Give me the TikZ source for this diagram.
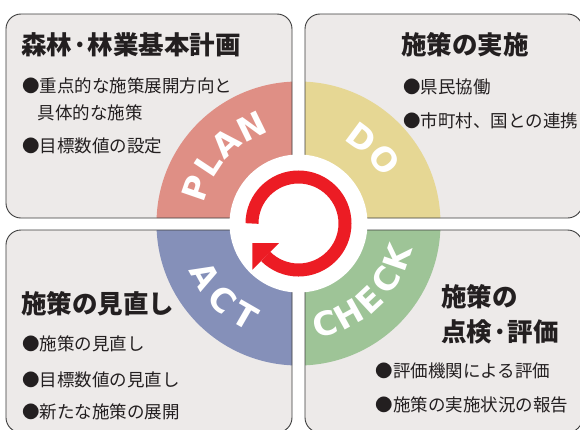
\documentclass[tikz,border=0pt]{standalone}
\usepackage{fontspec}
\newfontfamily\jp{Noto Sans CJK JP}
\newfontfamily\lat{DejaVu Sans}
\usetikzlibrary{calc}
\definecolor{panelfill}{HTML}{EDEAE9}
\definecolor{border}{HTML}{3C3C3C}
\definecolor{planc}{HTML}{DF8F85}
\definecolor{doc}{HTML}{E6D794}
\definecolor{checkc}{HTML}{9EC497}
\definecolor{actc}{HTML}{8590B9}
\definecolor{redc}{HTML}{EC1C24}
\definecolor{txt}{HTML}{231F20}
\tikzset{
  paneltitle/.style={font=\jp\bfseries\fontsize{25.5}{28}\selectfont, anchor=west, inner sep=0pt, text=txt},
  panelbody/.style={font=\jp\fontsize{17.5}{21}\selectfont, anchor=west, inner sep=0pt, text=txt},
  ringlbl/.style={font=\lat\bfseries\fontsize{33}{33}\selectfont, text=white, inner sep=0pt},
  panelborder/.style={draw=border, line width=0.9pt, rounded corners=15pt},
}
\begin{document}
\begin{tikzpicture}[x=1pt,y=1pt]
\useasboundingbox (-298.5,-205.5) rectangle (281.5,223.5);
\fill[white] (-298.5,-205.5) rectangle (281.5,223.5);

% top-left panel (PLAN)
\fill[panelfill, rounded corners=15pt] (-292.5,5.5) rectangle (-6.5,209.5);
\begin{scope}
  \clip[rounded corners=15pt] (-292.5,5.5) rectangle (-6.5,209.5);
  \fill[planc] (0,0) circle[radius=142];
\end{scope}
\draw[panelborder] (-292.5,5.5) rectangle (-6.5,209.5);

% top-right panel (DO)
\fill[panelfill, rounded corners=15pt] (6.5,5.5) rectangle (284,209.5);
\begin{scope}
  \clip[rounded corners=15pt] (6.5,5.5) rectangle (284,209.5);
  \fill[doc] (0,0) circle[radius=142];
\end{scope}
\draw[panelborder] (6.5,5.5) rectangle (284,209.5);

% bottom-left panel (ACT)
\fill[panelfill, rounded corners=15pt] (-292.5,-6.5) rectangle (-6.5,-209);
\begin{scope}
  \clip[rounded corners=15pt] (-292.5,-6.5) rectangle (-6.5,-209);
  \fill[actc] (0,0) circle[radius=142];
\end{scope}
\draw[panelborder] (-292.5,-6.5) rectangle (-6.5,-209);

% bottom-right panel (CHECK)
\fill[panelfill, rounded corners=15pt] (6.5,-6.5) rectangle (284,-209);
\begin{scope}
  \clip[rounded corners=15pt] (6.5,-6.5) rectangle (284,-209);
  \fill[checkc] (0,0) circle[radius=142];
\end{scope}
\draw[panelborder] (6.5,-6.5) rectangle (284,-209);

% white centre disc
\fill[white] (0,0) circle[radius=69];

% red cycle arrow
\draw[redc, line width=13pt] (180:46.5) arc[start angle=180, end angle=-135, radius=46.5];
\coordinate (E) at (-135:46.5);
\coordinate (tip) at ($(E)+(135:18.8)$);
\coordinate (b1) at ($(E)+(-135:18.8)$);
\coordinate (b2) at ($(E)+(45:18.8)$);
\fill[redc] (tip) -- (b1) -- (b2) -- cycle;

% ring labels
\foreach \l/\a [count=\i] in {P/161,L/146.5,A/132,N/116}
  \node[ringlbl, rotate=\a-90] (plan\i) at (\a:108) {\l};
\foreach \l/\a [count=\i] in {D/53.5,O/36.5}
  \node[ringlbl, rotate=\a-90] (do\i) at (\a:107) {\l};
\foreach \l/\a [count=\i] in {C/-75,H/-61,E/-47,C/-33,K/-19}
  \node[ringlbl, rotate=\a+90] (check\i) at (\a:104) {\l};
\foreach \l/\a [count=\i] in {A/209,C/225,T/240}
  \node[ringlbl, rotate=\a+90] (act\i) at (\a:107) {\l};

% texts
\node[paneltitle] (t1) at (-277.5,178.5) {森林·林業基本計画};
\node[panelbody] (t1a) at (-276.5,137.5) {●重点的な施策展開方向と};
\node[panelbody] (t1b) at (-261,111) {具体的な施策};
\node[panelbody] (t1c) at (-276.5,77.5) {●目標数値の設定};

\node[paneltitle] (t2) at (102.5,178.5) {施策の実施};
\node[panelbody] (t2a) at (104.5,136.5) {●県民協働};
\node[panelbody] (t2b) at (104.5,103) {●市町村、国との連携};

\node[paneltitle] (t3) at (-277.5,-80.5) {施策の見直し};
\node[panelbody] (t3a) at (-276.5,-120.5) {●施策の見直し};
\node[panelbody] (t3b) at (-276.5,-156.5) {●目標数値の見直し};
\node[panelbody] (t3c) at (-276.5,-188) {●新たな施策の展開};

\node[paneltitle] (t4a) at (142.5,-73.5) {施策の};
\node[paneltitle] (t4b) at (142.5,-108.2) {点検·評価};
\node[panelbody] (t4c) at (77,-147.5) {●評価機関による評価};
\node[panelbody] (t4d) at (77,-181) {●施策の実施状況の報告};
\end{tikzpicture}
\end{document}
